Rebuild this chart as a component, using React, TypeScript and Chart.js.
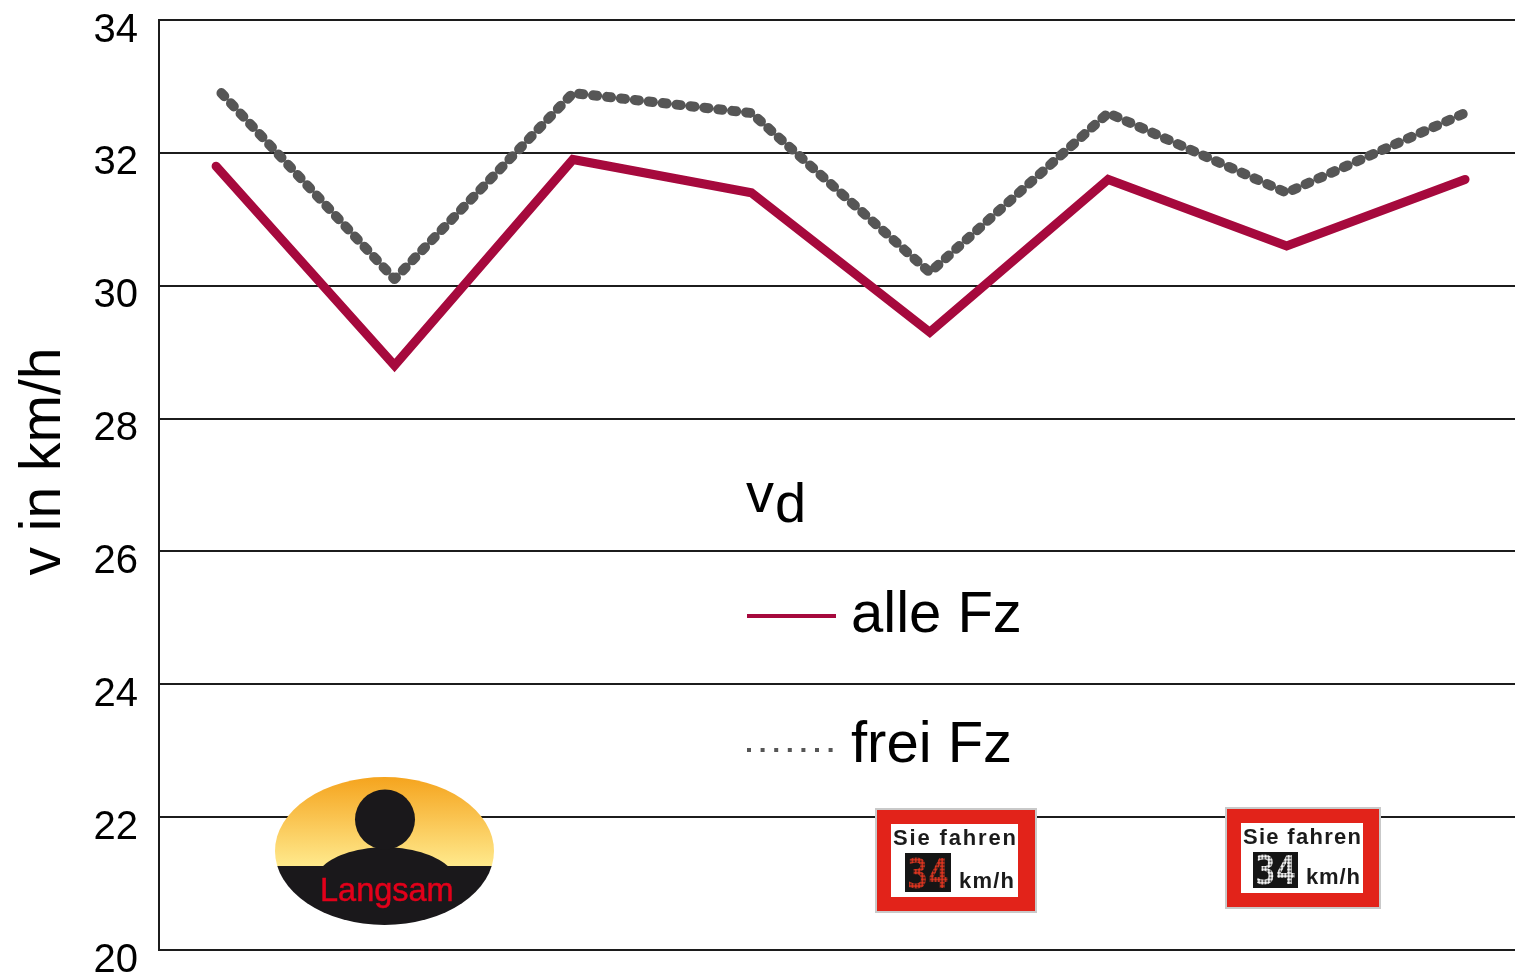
import React, { useEffect, useRef } from "react";
import { Chart, registerables } from "chart.js";

Chart.register(...registerables);

const FONT = '"Liberation Sans", Arial, sans-serif';

const xAlle = [1.0, 2, 3, 4, 5, 6, 7, 8];
const xFrei = [1.03, 2, 3, 4, 5, 6, 7, 8];
const alleFz = [31.8, 28.8, 31.9, 31.4, 29.3, 31.6, 30.6, 31.6];
const freiFz = [32.9, 30.1, 32.9, 32.6, 30.2, 32.6, 31.4, 32.6];
const yTicks = [20, 22, 24, 26, 28, 30, 32, 34];
const seriesNames = ["alle Fz", "frei Fz"];
const yTitle = "v in km/h";
const MAROON = "#A6093D";
const GREY = "#565656";

const annotations = {
  id: "annotations",
  afterDraw(chart: any) {
    const c = chart.ctx;
    c.save();
    c.fillStyle = "#000";
    c.textBaseline = "alphabetic";
    c.textAlign = "left";

    // rotated axis title
    c.save();
    c.translate(60, 461.5);
    c.rotate(-Math.PI / 2);
    c.textAlign = "center";
    c.font = `57px ${FONT}`;
    c.fillText(yTitle, 0, 0);
    c.restore();

    // legend heading
    c.font = `56px ${FONT}`;
    c.fillText("v", 746, 512);
    c.fillText("d", 775, 522);

    // legend entries
    c.font = `58px ${FONT}`;
    c.fillText(seriesNames[0], 851, 632);
    c.fillText(seriesNames[1], 851, 762);

    c.beginPath();
    c.strokeStyle = MAROON;
    c.lineWidth = 4;
    c.moveTo(747, 616);
    c.lineTo(836, 616);
    c.stroke();

    c.beginPath();
    c.strokeStyle = GREY;
    c.lineWidth = 4;
    c.setLineDash([4, 9.6]);
    c.moveTo(747, 750);
    c.lineTo(836, 750);
    c.stroke();
    c.restore();
  },
};

function Sign(props: {
  outer: [number, number, number, number];
  inner: [number, number, number, number];
  led: [number, number, number, number];
  line1: [number, number, number];
  line2: [number, number, number];
  pattern: string;
}) {
  const { outer, inner, led, line1, line2, pattern } = props;
  return (
    <g fontFamily={FONT} fontWeight="bold" fontSize={22} fill="#1b1b1b">
      <rect x={outer[0]} y={outer[1]} width={outer[2]} height={outer[3]} fill="#E2231A" stroke="#c9c9c9" strokeWidth={2} />
      <rect x={inner[0]} y={inner[1]} width={inner[2]} height={inner[3]} fill="#fff" />
      <text x={line1[0]} y={line1[1]} textLength={line1[2]} lengthAdjust="spacing">Sie fahren</text>
      <rect x={led[0]} y={led[1]} width={led[2]} height={led[3]} fill="#151515" />
      <text
        x={led[0] + 2}
        y={led[1] + led[3] - 4}
        fontFamily='"DejaVu Sans Mono", monospace'
        fontWeight="bold"
        fontSize={led[3] * 1.06}
        textLength={led[2] - 4}
        lengthAdjust="spacingAndGlyphs"
        fill={`url(#${pattern})`}
      >
        34
      </text>
      <text x={line2[0]} y={line2[1]} textLength={line2[2]} lengthAdjust="spacing">km/h</text>
    </g>
  );
}

export default function App() {
  const ref = useRef<HTMLCanvasElement>(null);

  useEffect(() => {
    document.body.style.margin = "0";
    const chart = new Chart(ref.current as HTMLCanvasElement, {
      type: "line",
      data: {
        datasets: [
          {
            label: seriesNames[1],
            data: freiFz.map((y, i) => ({ x: xFrei[i], y })),
            borderColor: GREY,
            borderWidth: 10,
            borderDash: [4.2, 9.8],
            borderCapStyle: "round",
            borderJoinStyle: "round",
            pointRadius: 0,
            tension: 0,
          },
          {
            label: seriesNames[0],
            data: alleFz.map((y, i) => ({ x: xAlle[i], y })),
            borderColor: MAROON,
            borderWidth: 9,
            borderCapStyle: "round",
            borderJoinStyle: "miter",
            pointRadius: 0,
            tension: 0,
          },
        ],
      },
      options: {
        responsive: false,
        animation: false,
        layout: { autoPadding: false, padding: { top: 20, bottom: 23, left: 0, right: 0 } },
        plugins: { legend: { display: false }, tooltip: { enabled: false }, title: { display: false } },
        scales: {
          x: { type: "linear", display: false, min: 0.68, max: 8.28 },
          y: {
            min: 20,
            max: 34,
            afterFit(scale: any) {
              scale.width = 159;
              scale.paddingTop = 0;
              scale.paddingBottom = 0;
            },
            afterBuildTicks(scale: any) {
              scale.ticks = yTicks.map((value) => ({ value }));
            },
            border: { display: true, color: "#1c1c1c", width: 2 },
            grid: { color: "#1c1c1c", lineWidth: 2, drawTicks: false },
            ticks: {
              color: "#000",
              padding: 21,
              labelOffset: 10.5,
              font: { family: FONT, size: 40 },
            },
          },
        },
      },
      plugins: [annotations],
    } as any);
    return () => chart.destroy();
  }, []);

  return (
    <div style={{ position: "relative", width: 1515, height: 973, overflow: "hidden", background: "#fff" }}>
      <canvas ref={ref} width={1515} height={973} style={{ display: "block" }} />
      <svg width={1515} height={973} style={{ position: "absolute", left: 0, top: 0 }}>
        <defs>
          <linearGradient id="sun" gradientUnits="userSpaceOnUse" x1="0" y1="777" x2="0" y2="866">
            <stop offset="0" stopColor="#F5A41E" />
            <stop offset="1" stopColor="#FFE98C" />
          </linearGradient>
          <clipPath id="oval">
            <ellipse cx={384.5} cy={851} rx={109.5} ry={74} />
          </clipPath>
          <pattern id="ledRed" width="3.3" height="3.3" patternUnits="userSpaceOnUse">
            <circle cx="1.65" cy="1.65" r="1.6" fill="#E0351F" />
          </pattern>
          <pattern id="ledWhite" width="3.3" height="3.3" patternUnits="userSpaceOnUse">
            <circle cx="1.65" cy="1.65" r="1.6" fill="#F8F8F8" />
          </pattern>
        </defs>

        <g clipPath="url(#oval)">
          <rect x={275} y={777} width={219} height={89} fill="url(#sun)" />
          <rect x={275} y={866} width={219} height={60} fill="#1A181B" />
          <path d="M322 867 C332 857 352 848 385 847 C418 848 438 857 449 867 Z" fill="#1A181B" />
          <circle cx={385} cy={819.5} r={30} fill="#1A181B" />
        </g>
        <text x={320} y={901} fontFamily={FONT} fontSize={32.5} fill="#E2001A" stroke="#E2001A" strokeWidth={0.5}>Langsam</text>

        <Sign
          outer={[876, 809, 160, 103]}
          inner={[891, 824, 127, 73]}
          led={[905, 853, 46, 39]}
          line1={[893, 845, 123]}
          line2={[959, 888, 55]}
          pattern="ledRed"
        />
        <Sign
          outer={[1226, 808, 154, 100]}
          inner={[1241, 823, 122, 70]}
          led={[1253, 852, 45, 36]}
          line1={[1243, 844, 118]}
          line2={[1306, 884, 54]}
          pattern="ledWhite"
        />
      </svg>
    </div>
  );
}
